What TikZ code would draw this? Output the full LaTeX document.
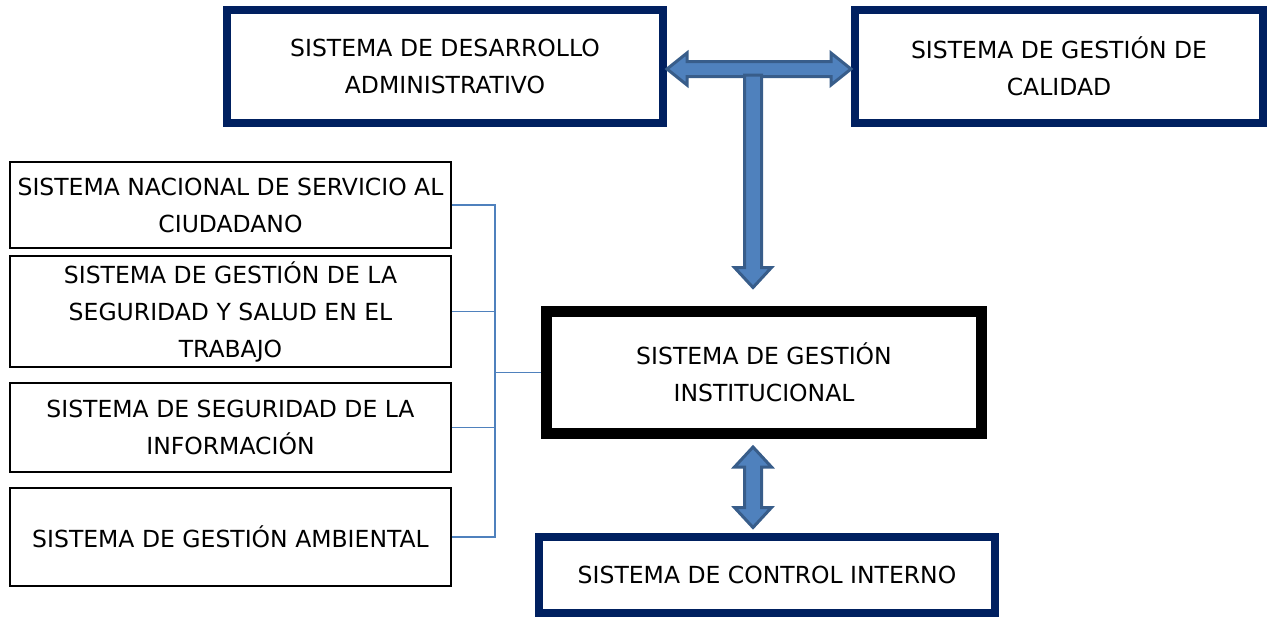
\documentclass[tikz,border=0pt]{standalone}
\usepackage{fontspec}
\setmainfont{DejaVu Sans}
\usetikzlibrary{calc}
\definecolor{navy}{RGB}{0,32,96}
\definecolor{arrowfill}{RGB}{79,129,189}
\definecolor{arrowline}{RGB}{56,93,138}
\tikzset{
    sysbox/.style={rectangle, inner sep=0pt, text centered, align=center, fill=white, font=\fontsize{23.5}{37}\selectfont},
    outerbox/.style={sysbox, draw=navy, line width=8pt},
    corebox/.style={sysbox, draw=black, line width=11pt},
    subbox/.style={sysbox, draw=black, line width=2pt, minimum width=441pt},
    blockarrow/.style={fill=arrowfill, draw=arrowline, line width=3pt, line join=miter},
    link/.style={draw=arrowfill, line width=1.5pt}
}

\begin{document}
\begin{tikzpicture}[x=1pt, y=-1pt]
    \useasboundingbox (0,0) rectangle (1268,616);
    % Upper systems
    \node[outerbox, minimum width=436pt, minimum height=113pt] (desarrollo) at (445,66.5) {SISTEMA DE DESARROLLO\\ADMINISTRATIVO};
    \node[outerbox, minimum width=408pt, minimum height=113pt] (calidad) at (1059,66.5) {SISTEMA DE GESTIÓN DE\\CALIDAD};
    % Core system
    \node[corebox, minimum width=435pt, minimum height=122pt] (institucional) at (764,372.5) {SISTEMA DE GESTIÓN\\INSTITUCIONAL};
    \node[outerbox, minimum width=456pt, minimum height=76pt] (control) at (767,575) {SISTEMA DE CONTROL INTERNO};
    % Subsystems on the left
    \node[subbox, minimum height=86pt] (ciudadano) at (230.5,205) {SISTEMA NACIONAL DE SERVICIO AL\\CIUDADANO};
    \node[subbox, minimum height=111pt] (sst) at (230.5,311.5) {SISTEMA DE GESTIÓN DE LA\\SEGURIDAD Y SALUD EN EL\\TRABAJO};
    \node[subbox, minimum height=89pt] (informacion) at (230.5,427.5) {SISTEMA DE SEGURIDAD DE LA\\INFORMACIÓN};
    \node[subbox, minimum height=98pt] (ambiental) at (230.5,537) {SISTEMA DE GESTIÓN AMBIENTAL};

    % Bracket
    \coordinate (join) at (495,372.5);
    \draw[link] (ciudadano.east) -| (join);
    \draw[link] (sst.east) -| (join);
    \draw[link] (informacion.east) -| (join);
    \draw[link] (ambiental.east) -| (join);
    \draw[link] (join) -- (institucional.west);

    % Block arrows
    \coordinate (stem) at (753,75);
    \filldraw[blockarrow] let \p1=($(desarrollo.east)+(0,2.5)$), \p2=(calidad.west) in
        (\x1,\y1) -- (\x1+20pt,\y1+16pt) -- (\x1+20pt,\y1+7.5pt) -- (\x2-20pt,\y1+7.5pt)
        -- (\x2-20pt,\y1+16pt) -- (\x2,\y1) -- (\x2-20pt,\y1-16pt) -- (\x2-20pt,\y1-7.5pt)
        -- (\x1+20pt,\y1-7.5pt) -- (\x1+20pt,\y1-16pt) -- cycle;
    \filldraw[blockarrow] let \p1=(stem), \p2=($(stem |- institucional.north)+(0,-18.5)$) in
        (\x1-8.5pt,\y1) -- (\x1+8.5pt,\y1) -- (\x1+8.5pt,\y2+20pt) -- (\x1+18.5pt,\y2+20pt)
        -- (\x1,\y2) -- (\x1-18.5pt,\y2+20pt) -- (\x1-8.5pt,\y2+20pt) -- cycle;
    \filldraw[blockarrow] let \p1=($(stem |- institucional.south)+(0,8)$), \p2=($(stem |- control.north)+(0,-5.5)$) in
        (\x1,\y1) -- (\x1+18.5pt,\y1-20pt) -- (\x1+8.5pt,\y1-20pt) -- (\x1+8.5pt,\y2+20pt)
        -- (\x1+18.5pt,\y2+20pt) -- (\x1,\y2) -- (\x1-18.5pt,\y2+20pt) -- (\x1-8.5pt,\y2+20pt)
        -- (\x1-8.5pt,\y1-20pt) -- (\x1-18.5pt,\y1-20pt) -- cycle;
\end{tikzpicture}
\end{document}
